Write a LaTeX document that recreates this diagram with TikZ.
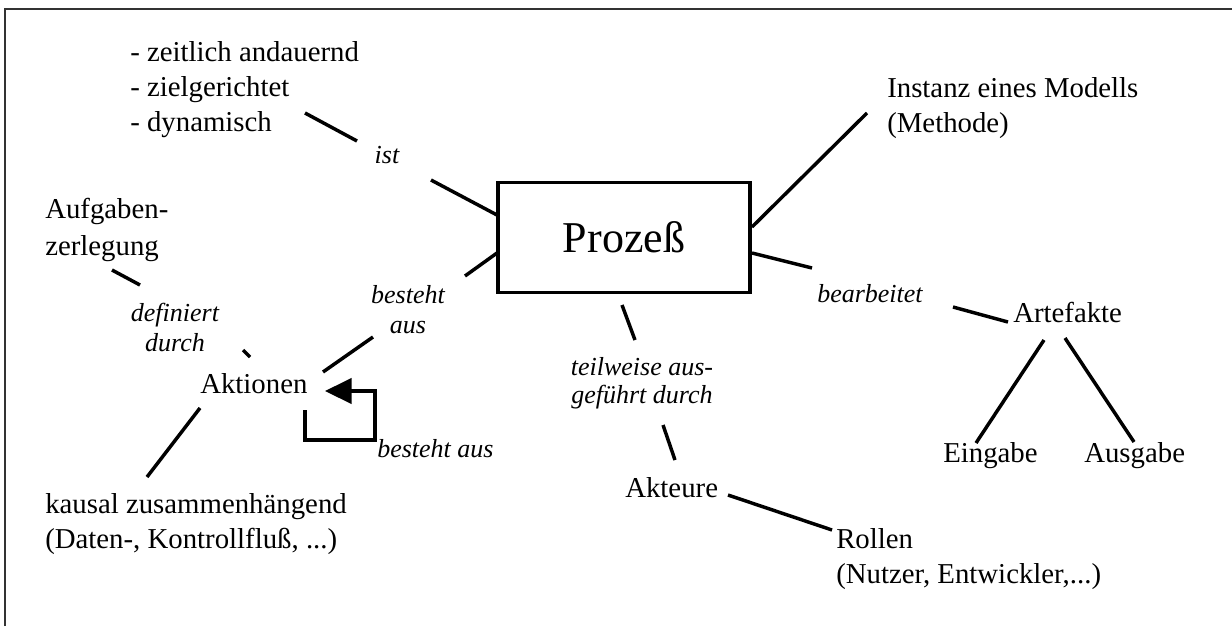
\documentclass[tikz,border=0pt]{standalone}
\usepackage{fontspec}
\setmainfont{Liberation Serif}
\usetikzlibrary{arrows.meta}
\begin{document}
\begin{tikzpicture}[x=0.75pt,y=-0.75pt,
  txt/.style={inner sep=0pt, anchor=base west, font=\fontsize{21.6}{26.25}\selectfont, align=left},
  lbl/.style={inner sep=0pt, anchor=base, font=\fontsize{19.5}{22.5}\selectfont\itshape, align=center},
  conn/.style={line width=2.6pt},
  frameline/.style={line width=2.2pt, black!80},
  mainbox/.style={draw, line width=2.6pt, minimum width=189pt, minimum height=82.5pt, inner sep=0pt,
                  font=\fontsize{33}{40}\selectfont}
]
\useasboundingbox (0,0) rectangle (1232,626);
% frame (only top and left visible)
\draw[frameline] (5,626) -- (5,9) -- (1232,9);

% central node
\node[mainbox] (proz) at (624,237.5) {Prozeß};

% text nodes (multi-line nodes are placed at the baseline of their last line)
\node[txt, font=\fontsize{21.6}{25.9}\selectfont] (eig) at (130,131) {- zeitlich andauernd\\- zielgerichtet\\- dynamisch};
\node[txt, font=\fontsize{21.6}{27.75}\selectfont] (aufg) at (45,255) {Aufgaben-\\zerlegung};
\node[txt] (akt) at (200,393) {Aktionen};
\node[txt] (kaus) at (45,548) {kausal zusammenhängend\\(Daten-, Kontrollfluß, ...)};
\node[txt] (inst) at (887,132) {Instanz eines Modells\\(Methode)};
\node[txt] (arte) at (1013,322) {Artefakte};
\node[txt] (ein) at (943,462) {Eingabe};
\node[txt] (aus) at (1084,462) {Ausgabe};
\node[txt] (akteure) at (625,497) {Akteure};
\node[txt] (rol) at (836,583) {Rollen\\(Nutzer, Entwickler,...)};

% edge labels
\node[lbl] (ist) at (387,163) {ist};
\node[lbl] (best) at (408,333) {besteht\\aus};
\node[lbl] (def) at (175,351) {definiert\\durch};
\node[lbl, font=\fontsize{19.5}{21}\selectfont\itshape] (teil) at (642,403) {teilweise aus-\\geführt durch};
\node[lbl, anchor=base west] (loopl) at (377,457) {besteht aus};
\node[lbl, anchor=base west] (bearb) at (817,302) {bearbeitet};

% connector end points
\coordinate (s1a) at (305,113); \coordinate (s1b) at (357,141);
\coordinate (s2a) at (431,180); \coordinate (s2b) at (497,215);
\coordinate (s3a) at (497,253); \coordinate (s3b) at (465,276);
\coordinate (s4a) at (373,337); \coordinate (s4b) at (323,372);
\coordinate (s5a) at (112,270); \coordinate (s5b) at (140,285);
\coordinate (s6a) at (243,350); \coordinate (s6b) at (250,357);
\coordinate (s7a) at (200,408); \coordinate (s7b) at (147,477);
\coordinate (s8a) at (752,227); \coordinate (s8b) at (867,113);
\coordinate (s9a) at (752,253); \coordinate (s9b) at (812,268);
\coordinate (s10a) at (953,307); \coordinate (s10b) at (1008,322);
\coordinate (s11a) at (1044,340); \coordinate (s11b) at (976,443);
\coordinate (s12a) at (1065,338); \coordinate (s12b) at (1134,442);
\coordinate (s13a) at (622,305); \coordinate (s13b) at (635,340);
\coordinate (s14a) at (663,425); \coordinate (s14b) at (675,460);
\coordinate (s15a) at (728,495); \coordinate (s15b) at (832,530);
\coordinate (la) at (305,410); \coordinate (lb) at (375,440); \coordinate (lc) at (325,391);

\draw[conn] (s1a) -- (s1b);
\draw[conn] (s2a) -- (s2b);
\draw[conn] (s3a) -- (s3b);
\draw[conn] (s4a) -- (s4b);
\draw[conn] (s5a) -- (s5b);
\draw[conn] (s6a) -- (s6b);
\draw[conn] (s7a) -- (s7b);
\draw[conn] (s8a) -- (s8b);
\draw[conn] (s9a) -- (s9b);
\draw[conn] (s10a) -- (s10b);
\draw[conn] (s11a) -- (s11b);
\draw[conn] (s12a) -- (s12b);
\draw[conn] (s13a) -- (s13b);
\draw[conn] (s14a) -- (s14b);
\draw[conn] (s15a) -- (s15b);

% self loop
\draw[conn, line join=miter, -{Triangle[length=20pt,width=19pt]}] (la) |- (lb) |- (lc);
\end{tikzpicture}
\end{document}
